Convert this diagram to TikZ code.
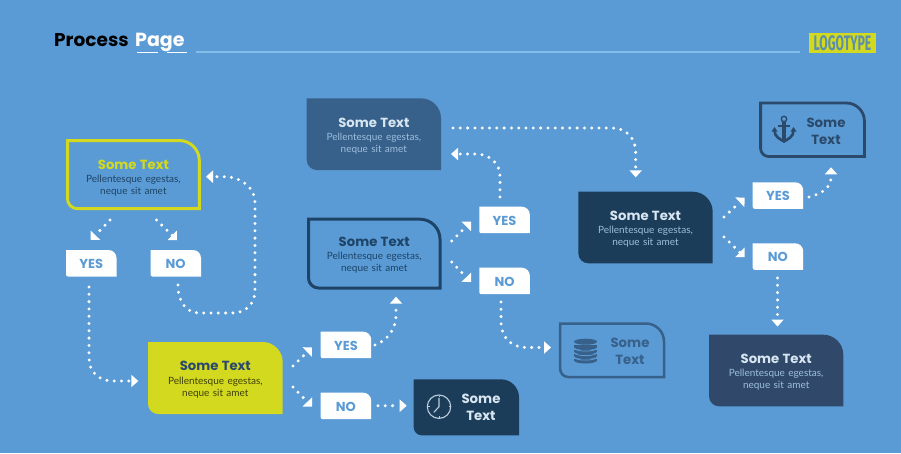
\documentclass[tikz,border=0pt]{standalone}
\usepackage{fontspec}
\usepackage{graphicx}
\setmainfont{Lato}
\newfontfamily\titlefont{Poppins}
\newfontfamily\logofont{Fira Sans}
\usetikzlibrary{arrows.meta}
\definecolor{bgblue}{HTML}{5B9BD5}
\definecolor{lime}{HTML}{D2D91E}
\definecolor{steel}{HTML}{37608A}
\definecolor{navy}{HTML}{1D4466}
\definecolor{deepnavy}{HTML}{1C3D5A}
\definecolor{slate}{HTML}{30496A}
\definecolor{anchorblue}{HTML}{2B4A6B}
\definecolor{paleblue}{HTML}{D8E6F2}
\definecolor{subblue}{HTML}{9CBEDD}
\definecolor{rulecol}{HTML}{84BDEA}
\definecolor{logotext}{HTML}{5E91A8}
\tikzset{
  x=1pt,y=-1pt,
  boxlabel/.style={inner sep=0pt,align=center,text width=130pt},
  tagbox/.style={fill=white},
  taglabel/.style={inner sep=0pt,text=bgblue,font=\titlefont\bfseries\fontsize{13}{15}\selectfont},
  dotline/.style={draw=white,line width=3.3pt,line cap=round,dash pattern=on 0pt off 7.3pt},
  straight head/.style={dotline,shorten >=-5pt,-{Triangle[length=7pt,width=12.5pt,line width=0pt,fill=white,sep=5pt]}},
  diag head/.style={dotline,shorten >=-2.5pt,-{Triangle[length=6.7pt,width=13.4pt,line width=0pt,fill=white,sep=2.5pt]}},
  icontext/.style={inner sep=0pt,align=center,font=\titlefont\bfseries\fontsize{13.3}{17}\selectfont},
}
\def\boxshift{1.8}
% x1 y1 x2 y2 R r style
\newcommand{\blobpath}[7]{%
  \path[#7] (#1,#2) -- ({#3-#5},#2) .. controls ({#3-0.45*#5},#2) and (#3,{#2+0.45*#5}) .. (#3,{#2+#5})
    -- (#3,#4) -- ({#1+#6},#4) .. controls ({#1+0.45*#6},#4) and (#1,{#4-0.45*#6}) .. (#1,{#4-#6}) -- cycle;}
% textbox: name, x1,y1,x2,y2, style, head colour, sub colour
\newcommand{\textblob}[8]{%
  \blobpath{#2}{#3}{#4}{#5}{20}{10}{#6}%
  \node[boxlabel,minimum width={#4-#2},minimum height={#5-#3}] (#1) at ({(#2+#4)/2},{(#3+#5)/2+\boxshift})
    {{\color{#7}\titlefont\bfseries\fontsize{13.2}{16}\selectfont Some Text}\\[3pt]
     {\color{#8}\fontsize{10}{10.4}\selectfont Pellentesque egestas,\\neque sit amet}};}
\newcommand{\tagnode}[4]{%
  \pgfmathsetmacro{\tagxe}{#3+50.5}%
  \pgfmathsetmacro{\tagye}{#4+26.5}%
  \blobpath{#3}{#4}{\tagxe}{\tagye}{8}{2}{tagbox}%
  \node[taglabel,minimum width=50pt,minimum height=26pt] (#1) at ({#3+25.2},{#4+13.8}) {#2};}
\begin{document}
\begin{tikzpicture}
\useasboundingbox (0,0) rectangle (901,453);
\fill[bgblue] (0,0) rectangle (901,453);

% header
\node[anchor=base west,inner sep=0pt,font=\titlefont\bfseries\fontsize{18.5}{20}\selectfont] (title) at (54,46.5)
  {\color{black}Process\hspace{6.5pt}\color{white}\fontsize{19}{20}\selectfont Page};
\coordinate (ruleL) at (196,52);
\coordinate (ruleR) at (800,52);
\draw[rulecol,line width=1.4pt] (ruleL) -- (ruleR);
\coordinate (u1a) at (137,52.5); \coordinate (u1b) at (158,52.5);
\coordinate (u2a) at (167,52.5); \coordinate (u2b) at (186.5,52.5);
\draw[white,line width=1.8pt] (u1a) -- (u1b) (u2a) -- (u2b);
\node[fill=lime,minimum width=67pt,minimum height=20pt,inner sep=0pt,text=logotext] (logo) at (842.5,43)
  {\logofont\bfseries\fontsize{21}{22}\selectfont\scalebox{0.583}[1]{LOGOTYPE}};

% boxes
\def\boxshift{3.5}
\textblob{boxA}{67.5}{140.5}{199.3}{208.7}{draw=lime,line width=3pt}{lime}{navy}
\def\boxshift{1.8}
\textblob{boxLime}{148}{342}{282.7}{414}{fill=lime}{anchorblue}{black!70!lime}
\textblob{boxSteel}{306.7}{98.3}{441}{170}{fill=steel}{paleblue}{subblue}
\textblob{boxOut}{308.5}{219.2}{440}{288}{draw=navy,line width=3pt}{navy}{navy}
\textblob{boxDark}{578.3}{191.7}{712.7}{263.3}{fill=deepnavy}{paleblue}{subblue}
\textblob{boxSlate}{709}{334.7}{843.3}{406.3}{fill=slate}{paleblue}{subblue}

% icon boxes
\blobpath{560.2}{323.5}{664}{377}{18}{8}{draw=steel,line width=2.5pt}
\node[minimum width=104pt,minimum height=54pt,inner sep=0pt] (boxDB) at (612,350) {};
\node[icontext,text=steel] (dbtext) at (630,351.5) {Some\\Text};
\blobpath{413.7}{379.3}{519}{435.3}{18}{8}{fill=deepnavy}
\node[minimum width=105pt,minimum height=56pt,inner sep=0pt] (boxClock) at (466.3,407.3) {};
\node[icontext,text=paleblue] (clocktext) at (481,407.5) {Some\\Text};
\blobpath{760.6}{103}{864.4}{156.5}{18}{8}{draw=anchorblue,line width=2.8pt}
\node[minimum width=104pt,minimum height=54pt,inner sep=0pt] (boxAnchor) at (812.5,130) {};
\node[icontext,text=anchorblue] (anchortext) at (826,131) {Some\\Text};

% icons
\begin{scope}[shift={(439,406.7)}]
  \draw[paleblue!85!deepnavy,line width=1.1pt] (0,0) circle[radius=11.7];
  \draw[paleblue!85!deepnavy,line width=1.1pt,line cap=round] (0,-8.5) -- (0,0) -- (-5,5.5);
  \foreach \a in {0,90,180,270} \draw[paleblue!85!deepnavy,line width=.7pt] (\a:9.5) -- (\a:11);
\end{scope}
\begin{scope}[shift={(585.5,351.5)}]
  \foreach \yy in {9,4.5,0,-4.5} {
    \fill[steel] (-11.5,\yy) arc[start angle=180,end angle=360,x radius=11.5,y radius=-3] -- cycle;
    \fill[steel] (-11.5,\yy-1.6) -- (11.5,\yy-1.6) -- (11.5,\yy) -- (-11.5,\yy) -- cycle;
  }
  \fill[steel] (0,-9.8) ellipse[x radius=11.5,y radius=3];
  \foreach \yy in {5.6,1.1,-3.4} \draw[bgblue,line width=.8pt] (-11.5,\yy) arc[start angle=180,end angle=360,x radius=11.5,y radius=-3];
\end{scope}
\begin{scope}[shift={(784,128)}]
  \draw[anchorblue,line width=1.4pt] (0,-9) circle[radius=2.7];
  \fill[anchorblue] (-1.6,-6.5) rectangle (1.6,13);
  \fill[anchorblue] (-6,-3.2) rectangle (6,-0.8);
  \draw[anchorblue,line width=2.6pt] (-9.5,2.5) .. controls (-9.5,9) and (-4,11) .. (0,13.5) .. controls (4,11) and (9.5,9) .. (9.5,2.5);
  \fill[anchorblue] (-12.5,3.5) -- (-9.5,-1) -- (-6.5,3.5) -- cycle;
  \fill[anchorblue] (12.5,3.5) -- (9.5,-1) -- (6.5,3.5) -- cycle;
\end{scope}

% tags
\tagnode{yesA}{YES}{66}{250}
\tagnode{noA}{NO}{150.5}{250}
\tagnode{yesB}{YES}{320.7}{331.7}
\tagnode{noB}{NO}{320.7}{392.7}
\tagnode{yesC}{YES}{479.3}{206.7}
\tagnode{noC}{NO}{479.3}{267.7}
\tagnode{yesD}{YES}{752.7}{182.3}
\tagnode{noD}{NO}{752.7}{243.3}

% connector ends
\coordinate (a1) at (110,220);   \coordinate (a1t) at (90.7,240);
\coordinate (a2) at (156.5,220); \coordinate (a2t) at (177,240);
\coordinate (a3) at (178,285);   \coordinate (a3t) at (206,176.7);
\coordinate (a4) at (89,287);    \coordinate (a4t) at (138.3,381);
\coordinate (b1) at (293,366);   \coordinate (b1t) at (312,347.3);
\coordinate (b2) at (293,387);   \coordinate (b2t) at (312,406.7);
\coordinate (b3) at (375,345);   \coordinate (b3t) at (396,296.7);
\coordinate (b4) at (378,405.7); \coordinate (b4t) at (406.7,405.7);
\coordinate (c1) at (451.7,241); \coordinate (c1t) at (471,221.7);
\coordinate (c2) at (451.7,262); \coordinate (c2t) at (471,282);
\coordinate (c3) at (500,197);   \coordinate (c3t) at (451,154);
\coordinate (c4) at (501,302);   \coordinate (c4t) at (551,347.5);
\coordinate (s1) at (453,128);   \coordinate (s1t) at (635.7,177.3);
\coordinate (d1) at (724,217);   \coordinate (d1t) at (744.7,197.7);
\coordinate (d2) at (724,237);   \coordinate (d2t) at (744.7,257);
\coordinate (d3) at (809,197);   \coordinate (d3t) at (831,167.3);
\coordinate (d4) at (777.5,278); \coordinate (d4t) at (777.5,326.5);

% connectors
\draw[diag head] (a1) -- (a1t);
\draw[diag head] (a2) -- (a2t);
\draw[straight head] (a3) .. controls (178,303) and (187,313) .. (200,313) -- (232,313)
  .. controls (246,313) and (255,304) .. (255,290) -- (255,202)
  .. controls (255,187) and (240,176.7) .. (225,176.7) -- (a3t);
\draw[straight head] (a4) -- (89,358) .. controls (89,372) and (99,381) .. (113,381) -- (a4t);
\draw[diag head] (b1) -- (b1t);
\draw[diag head] (b2) -- (b2t);
\draw[straight head] (b3) .. controls (386,341) and (396,330) .. (396,316) -- (b3t);
\draw[straight head] (b4) -- (b4t);
\draw[diag head] (c1) -- (c1t);
\draw[diag head] (c2) -- (c2t);
\draw[straight head] (c3) -- (500,176) .. controls (500,163) and (489,154) .. (476,154) -- (c3t);
\draw[straight head] (c4) -- (501,322) .. controls (501,337) and (511,347.5) .. (526,347.5) -- (c4t);
\draw[straight head] (s1) -- (612,128) .. controls (626,128) and (635.7,138) .. (635.7,152) -- (s1t);
\draw[diag head] (d1) -- (d1t);
\draw[diag head] (d2) -- (d2t);
\draw[straight head] (d3) .. controls (822,194) and (831,187) .. (831,178) -- (d3t);
\draw[straight head] (d4) -- (d4t);
\end{tikzpicture}
\end{document}
